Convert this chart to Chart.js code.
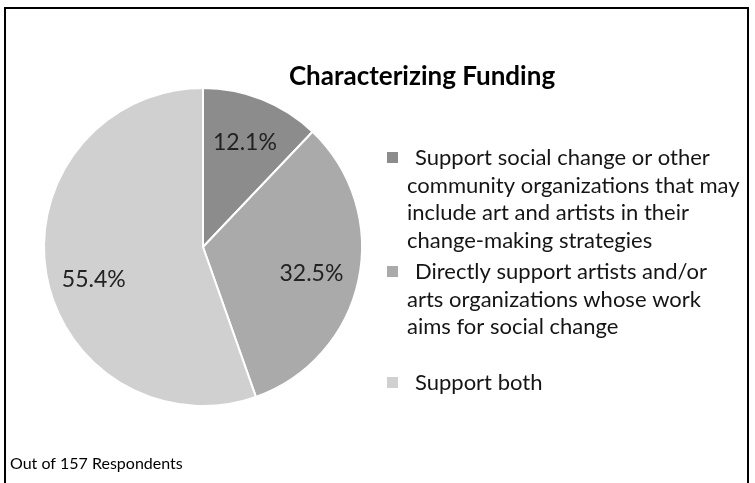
<!DOCTYPE html>
<html>
<head>
<meta charset="utf-8">
<script src="https://cdn.jsdelivr.net/npm/chart.js@4"></script>
<style>
  html, body { margin: 0; padding: 0; background: #fff; }
  #wrap { position: relative; width: 755px; height: 483px; }
</style>
</head>
<body>
<div id="wrap"><canvas id="fundingChart" width="755" height="483"></canvas></div>
<script>
// chart data
const categories = [
    ['Support social change or other', 'community organizations that may', 'include art and artists in their', 'change-making strategies'],
    ['Directly support artists and/or', 'arts organizations whose work', 'aims for social change'],
    ['Support both']
];
const shares = [12.1, 32.5, 55.4];
const sliceColors = ['#8c8c8c', '#aaaaaa', '#d0d0d0'];
const titleText = 'Characterizing Funding';
const footnote = 'Out of 157 Respondents';

const FONT = 'Lato, "Open Sans", sans-serif';
// small pixel nudges for the slice labels (Excel "best fit" placement)
const labelShift = [[0, 0], [-2, 3], [2, 14]];

// Draws frame, title, slice labels, legend and footnote
const decorations = {
    id: 'decorations',
    afterDraw(chart) {
        const c = chart.ctx;
        c.save();

        // frame
        c.strokeStyle = '#000';
        c.lineWidth = 2;
        c.beginPath();
        c.moveTo(5, 490);
        c.lineTo(5, 8);
        c.lineTo(748, 8);
        c.lineTo(748, 490);
        c.stroke();

        // title
        c.fillStyle = '#000';
        c.font = 'bold 26px ' + FONT;
        c.textAlign = 'center';
        c.textBaseline = 'middle';
        c.fillText(titleText, 422, 77);

        // percentage labels inside slices
        const meta = chart.getDatasetMeta(0);
        c.font = '23px ' + FONT;
        c.fillStyle = '#222';
        meta.data.forEach((arc, i) => {
            const p = arc.getProps(['x', 'y', 'startAngle', 'endAngle', 'outerRadius'], true);
            const mid = (p.startAngle + p.endAngle) / 2;
            const r = p.outerRadius * 0.71;
            c.fillText(shares[i].toFixed(1) + '%',
                p.x + Math.cos(mid) * r + labelShift[i][0],
                p.y + Math.sin(mid) * r + labelShift[i][1]);
        });

        // legend
        c.font = '22px ' + FONT;
        c.textAlign = 'left';
        const lineH = 27.6;
        const blockTops = [158, 272, 383];
        categories.forEach((lines, i) => {
            const y0 = blockTops[i];
            c.fillStyle = sliceColors[i];
            c.fillRect(387, y0 - 6, 11, 11);
            c.fillStyle = '#151515';
            lines.forEach((t, j) => {
                c.fillText(t, j === 0 ? 415 : 407, y0 + j * lineH);
            });
        });

        // footnote
        c.font = '16px ' + FONT;
        c.fillStyle = '#000';
        c.fillText(footnote, 10, 464);

        c.restore();
    }
};

new Chart(document.getElementById('fundingChart'), {
    type: 'pie',
    data: {
        labels: categories.map(l => l.join(' ')),
        datasets: [{
            data: shares,
            backgroundColor: sliceColors,
            borderColor: '#ffffff',
            borderWidth: 2
        }]
    },
    options: {
        responsive: false,
        animation: false,
        layout: { padding: { left: 43, top: 87, right: 392, bottom: 76 } },
        plugins: {
            legend: { display: false },
            title: { display: false },
            tooltip: { enabled: false }
        }
    },
    plugins: [decorations]
});
</script>
</body>
</html>
